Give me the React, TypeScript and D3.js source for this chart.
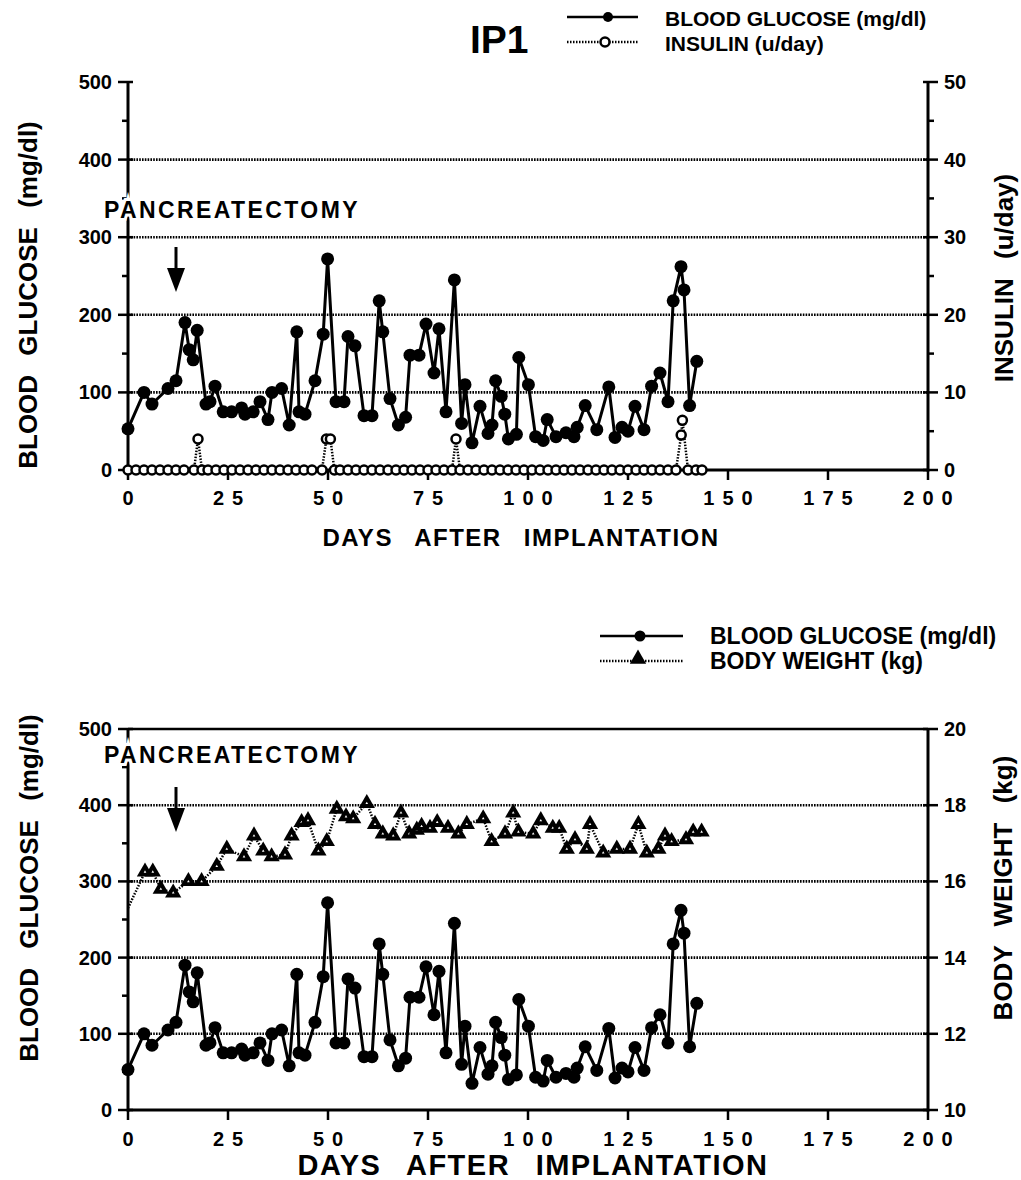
import * as d3 from 'd3';

// blood glucose (mg/dl), same series in both panels
const glucoseDays = [
  0, 4, 6, 10, 12, 14.25, 15.3, 16.3, 17.3, 19.5, 20.5, 21.75, 23.8, 25.9, 28.4, 29.25, 31.3, 33,
  35, 36, 38.4, 40.3, 42.2, 42.75, 44.25, 46.75, 48.8, 49.9, 52, 54, 55, 56.75, 59, 61, 62.8, 63.7,
  65.5, 67.6, 69.4, 70.5, 72.75, 74.5, 76.5, 77.75, 79.5, 81.6, 83.4, 84.25, 86, 88, 90, 91, 91.9,
  93.3, 94.2, 95.1, 97.1, 97.7, 100.1, 101.9, 103.8, 104.8, 107, 109.5, 111.5, 112.3, 114.3, 117.2,
  120.2, 121.75, 123.5, 125, 126.75, 129, 130.9, 133, 135, 136.3, 138.25, 139, 140.4, 142.2,
];
const glucoseValues = [
  53, 100, 85, 105, 115, 190, 155, 142, 180, 85, 88, 108, 75, 75, 80, 72, 75, 88,
  65, 100, 105, 58, 178, 75, 72, 115, 175, 272, 88, 88, 172, 160, 70, 70, 218, 178,
  92, 58, 68, 148, 148, 188, 125, 182, 75, 245, 60, 110, 35, 82, 47, 58, 115,
  95, 72, 40, 46, 145, 110, 43, 38, 65, 43, 48, 43, 55, 83, 52,
  107, 42, 55, 50, 82, 52, 108, 125, 88, 218, 262, 232, 83, 140,
];

// insulin (u/day), top panel
const insulinDays = [
  0, 2, 4, 6, 8, 10, 12, 14, 16.5, 17.5, 18.5, 20, 22, 24, 26, 28, 30, 32, 34, 36, 38, 40, 42, 44,
  46, 48.5, 49.6, 50.6, 51.6, 53, 55, 57, 59, 61, 63, 65, 67, 69, 71, 73, 75, 77, 79, 81, 82, 83,
  85, 87, 89, 91, 93, 95, 97, 99, 101, 103, 105, 107, 109, 111, 113, 115, 117, 119, 121, 123, 125,
  127, 129, 131, 133, 135, 137, 138.3, 138.6, 140, 142, 143.5,
];
const insulinValues = [
  0, 0, 0, 0, 0, 0, 0, 0, 0, 4, 0, 0, 0, 0, 0, 0, 0, 0, 0, 0, 0, 0, 0, 0,
  0, 0, 4, 4, 0, 0, 0, 0, 0, 0, 0, 0, 0, 0, 0, 0, 0, 0, 0, 0, 4, 0,
  0, 0, 0, 0, 0, 0, 0, 0, 0, 0, 0, 0, 0, 0, 0, 0, 0, 0, 0, 0, 0,
  0, 0, 0, 0, 0, 0, 4.5, 6.4, 0, 0, 0,
];

// body weight (kg), bottom panel
const weightDays = [
  0, 4.25, 6.2, 8.2, 11.3, 15.1, 18.4, 22.2, 24.7, 29, 31.5, 33.8, 35.9, 39.25, 40.9, 43.4, 45,
  47.6, 49.7, 52.2, 54.5, 56.3, 59.7, 61.75, 63.7, 66.3, 68.25, 70.3, 72.2, 73.4, 75.5, 77.3, 80,
  82.6, 84.7, 88.8, 90.9, 94.25, 96.3, 97.6, 101.3, 103.2, 106.2, 107.8, 109.7, 111.75, 114.7,
  115.5, 118.8, 122.2, 125.5, 127.6, 129.7, 132.6, 134.25, 135.9, 139.5, 141.3, 143.4,
];
const weightValues = [
  15.3, 16.25, 16.25, 15.8, 15.7, 16.0, 16.0, 16.4, 16.85, 16.65, 17.2, 16.8, 16.65, 16.7, 17.2,
  17.55, 17.6, 16.8, 17.05, 17.9, 17.7, 17.65, 18.05, 17.5, 17.25, 17.2, 17.8, 17.25, 17.35, 17.45,
  17.4, 17.55, 17.4, 17.25, 17.5, 17.65, 17.05, 17.25, 17.8, 17.3, 17.25, 17.6, 17.4, 17.4, 16.85,
  17.1, 16.85, 17.5, 16.75, 16.85, 16.85, 17.5, 16.75, 16.85, 17.2, 17.05, 17.1, 17.3, 17.3,
];

const dayTicks = [0, 25, 50, 75, 100, 125, 150, 175, 200];
const glucoseTicks = [0, 100, 200, 300, 400, 500];
const glucoseMinor = [50, 150, 250, 350, 450];
const glucoseGrid = [100, 200, 300, 400];
const insulinTicks = [0, 10, 20, 30, 40, 50];
const insulinMinor = [5, 15, 25, 35, 45];
const weightTicks = [10, 12, 14, 16, 18, 20];
const pancreatectomyDay = 12;

const FONT = '"Liberation Sans", Arial, Helvetica, sans-serif';

const x = d3.scaleLinear().domain([0, 200]).range([128, 928]);

interface PanelProps {
  yL: d3.ScaleLinear<number, number>;
  yR: d3.ScaleLinear<number, number>;
  rightTicks: number[];
  rightMinor: number[];
  topBorder: boolean;
  tickLabelY: number;
}

const Axes = ({ yL, yR, rightTicks, rightMinor, topBorder, tickLabelY }: PanelProps) => {
  const [x0, x1] = x.range();
  const y0 = yL(0);
  const yTop = yL(500);
  return (
    <g fontFamily={FONT} fontWeight='bold' fill='#000'>
      {glucoseGrid.map((t) => (
        <line key={'g' + t} x1={x0} x2={x1} y1={yL(t)} y2={yL(t)} stroke='#000' strokeWidth={2.6} strokeDasharray='1.6 1.2' />
      ))}
      {topBorder && <line x1={x0} x2={x1} y1={yTop} y2={yTop} stroke='#000' strokeWidth={2.5} />}
      <line x1={x0} x2={x0} y1={yTop} y2={y0 + 1.5} stroke='#000' strokeWidth={3} />
      <line x1={x1} x2={x1} y1={yTop} y2={y0 + 1.5} stroke='#000' strokeWidth={3} />
      <line x1={x0} x2={x1} y1={y0} y2={y0} stroke='#000' strokeWidth={3} />
      {glucoseTicks.map((t) => (
        <g key={'l' + t}>
          <line x1={x0 - 10} x2={x0 + 5} y1={yL(t)} y2={yL(t)} stroke='#000' strokeWidth={2.5} />
          <text x={x0 - 16} y={yL(t) + 7} textAnchor='end' fontSize={20}>{t}</text>
        </g>
      ))}
      {glucoseMinor.map((t) => (
        <line key={'lm' + t} x1={x0 - 6} x2={x0} y1={yL(t)} y2={yL(t)} stroke='#000' strokeWidth={2.5} />
      ))}
      {rightTicks.map((t) => (
        <g key={'r' + t}>
          <line x1={x1 - 5} x2={x1 + 10} y1={yR(t)} y2={yR(t)} stroke='#000' strokeWidth={2.5} />
          <text x={x1 + 16} y={yR(t) + 7} textAnchor='start' fontSize={20}>{t}</text>
        </g>
      ))}
      {rightMinor.map((t) => (
        <line key={'rm' + t} x1={x1} x2={x1 + 6} y1={yR(t)} y2={yR(t)} stroke='#000' strokeWidth={2.5} />
      ))}
      {dayTicks.map((t) => (
        <g key={'x' + t}>
          <line x1={x(t)} x2={x(t)} y1={y0} y2={y0 + 10} stroke='#000' strokeWidth={2.5} />
          <text x={x(t) + 4} y={tickLabelY} textAnchor='middle' fontSize={20} letterSpacing={8}>{t}</text>
        </g>
      ))}
    </g>
  );
};

const Pancreatectomy = ({ textY, arrowY }: { textY: number; arrowY: number }) => {
  const ax = x(pancreatectomyDay);
  return (
    <g>
      <text x={104} y={textY} fontFamily={FONT} fontWeight='bold' fontSize={23} letterSpacing={2.4}
        stroke='#fff' strokeWidth={6} paintOrder='stroke' fill='#000'>PANCREATECTOMY</text>
      <line x1={ax} x2={ax} y1={arrowY} y2={arrowY + 26} stroke='#000' strokeWidth={3} />
      <polygon points={`${ax - 9},${arrowY + 21} ${ax + 9},${arrowY + 21} ${ax},${arrowY + 45}`} fill='#000' />
    </g>
  );
};

const GlucoseSeries = ({ y }: { y: d3.ScaleLinear<number, number> }) => {
  const line = d3.line<number>().x((d, i) => x(glucoseDays[i])).y((d) => y(d));
  return (
    <g>
      <path d={line(glucoseValues) ?? ''} fill='none' stroke='#000' strokeWidth={3} strokeLinejoin='round' />
      {glucoseValues.map((v, i) => (
        <circle key={i} cx={x(glucoseDays[i])} cy={y(v)} r={6.5} fill='#000' />
      ))}
    </g>
  );
};

export default function App() {
  const yTop = d3.scaleLinear().domain([0, 500]).range([470, 82]);
  const insulinY = d3.scaleLinear().domain([0, 50]).range([470, 82]);
  const yBot = d3.scaleLinear().domain([0, 500]).range([1110, 729]);
  const weightY = d3.scaleLinear().domain([10, 20]).range([1110, 729]);

  const insulinLine = d3.line<number>().x((d, i) => x(insulinDays[i])).y((d) => insulinY(d));
  const weightLine = d3.line<number>().x((d, i) => x(weightDays[i])).y((d) => weightY(d));
  const tri = d3.symbol(d3.symbolTriangle, 115)() ?? '';
  const triInner = d3.symbol(d3.symbolTriangle, 3)() ?? '';

  return (
    <svg width={1021} height={1180} style={{ position: 'absolute', left: 0, top: 0, background: '#fff' }}>
      {/* ---------- top panel ---------- */}
      <text x={470} y={53} fontFamily={FONT} fontWeight='bold' fontSize={39}>IP1</text>
      <g fontFamily={FONT} fontWeight='bold' fontSize={21}>
        <line x1={567} x2={638} y1={17} y2={17} stroke='#000' strokeWidth={2.5} />
        <circle cx={608} cy={17} r={5} fill='#000' />
        <text x={665} y={26}>BLOOD GLUCOSE (mg/dl)</text>
        <line x1={567} x2={638} y1={42} y2={42} stroke='#000' strokeWidth={2.5} strokeDasharray='1.5 1.5' />
        <circle cx={605} cy={42} r={4.5} fill='#fff' stroke='#000' strokeWidth={2.5} />
        <text x={665} y={51}>INSULIN (u/day)</text>
      </g>

      <Axes yL={yTop} yR={insulinY} rightTicks={insulinTicks} rightMinor={insulinMinor} topBorder={false} tickLabelY={505} />
      <Pancreatectomy textY={218} arrowY={247} />

      <path d={insulinLine(insulinValues) ?? ''} fill='none' stroke='#000' strokeWidth={2.5} strokeDasharray='1.5 1.5' />
      {insulinValues.map((v, i) => (
        <circle key={'i' + i} cx={x(insulinDays[i])} cy={insulinY(v)} r={4.5} fill='#fff' stroke='#000' strokeWidth={2.5} />
      ))}
      <GlucoseSeries y={yTop} />

      <g fontFamily={FONT} fontWeight='bold'>
        <text transform='translate(37,295) rotate(-90)' textAnchor='middle' fontSize={26} wordSpacing={12}>BLOOD GLUCOSE (mg/dl)</text>
        <text transform='translate(1013,278) rotate(-90)' textAnchor='middle' fontSize={26} wordSpacing={12}>INSULIN (u/day)</text>
        <text x={521} y={546} textAnchor='middle' fontSize={24} wordSpacing={14} letterSpacing={1.5}>DAYS AFTER IMPLANTATION</text>
      </g>

      {/* ---------- bottom panel ---------- */}
      <g fontFamily={FONT} fontWeight='bold' fontSize={23}>
        <line x1={600} x2={683} y1={636} y2={636} stroke='#000' strokeWidth={2.5} />
        <circle cx={640} cy={636} r={5.5} fill='#000' />
        <text x={710} y={644}>BLOOD GLUCOSE (mg/dl)</text>
        <line x1={600} x2={683} y1={661} y2={661} stroke='#000' strokeWidth={2.5} strokeDasharray='1.5 1.5' />
        <path d={tri} transform='translate(638,659)' fill='#000' />
        <text x={710} y={669}>BODY WEIGHT (kg)</text>
      </g>

      <Axes yL={yBot} yR={weightY} rightTicks={weightTicks} rightMinor={[]} topBorder={true} tickLabelY={1146} />
      <Pancreatectomy textY={763} arrowY={787} />

      <path d={weightLine(weightValues) ?? ''} fill='none' stroke='#000' strokeWidth={2.5} strokeDasharray='1.5 1.5' />
      {weightValues.map((v, i) =>
        i === 0 ? null : (
          <g key={'w' + i} transform={`translate(${x(weightDays[i])},${weightY(v)})`}>
            <path d={tri} fill='#000' />
            <path d={triInner} fill='#fff' />
          </g>
        ),
      )}
      <GlucoseSeries y={yBot} />

      <g fontFamily={FONT} fontWeight='bold'>
        <text transform='translate(38,888) rotate(-90)' textAnchor='middle' fontSize={26} wordSpacing={12}>BLOOD GLUCOSE (mg/dl)</text>
        <text transform='translate(1012,888) rotate(-90)' textAnchor='middle' fontSize={26} wordSpacing={12}>BODY WEIGHT (kg)</text>
        <text x={533} y={1175} textAnchor='middle' fontSize={29} wordSpacing={16} letterSpacing={1.5}>DAYS AFTER IMPLANTATION</text>
      </g>
    </svg>
  );
}
